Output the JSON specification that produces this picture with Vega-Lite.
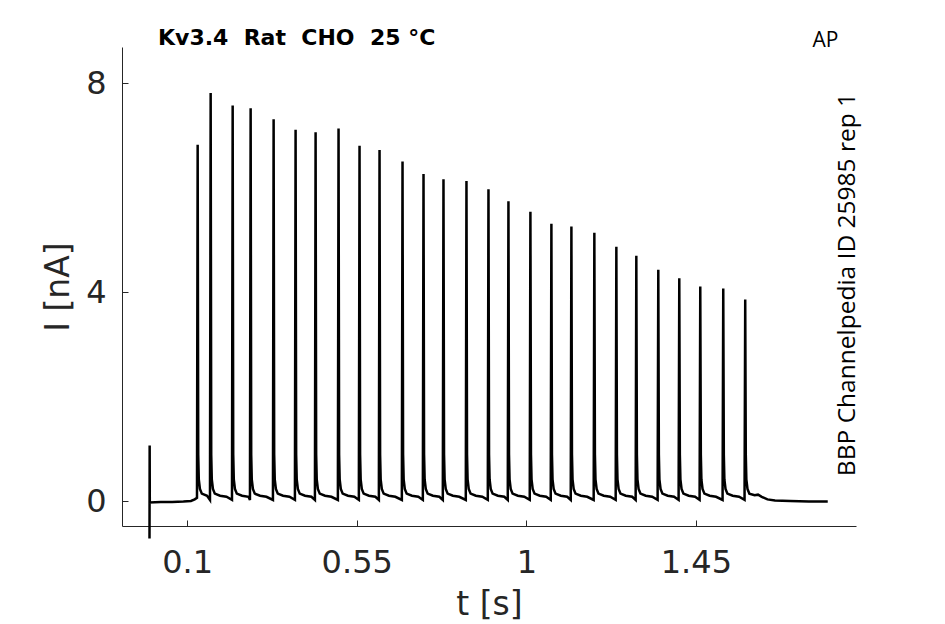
{
  "$schema": "https://vega.github.io/schema/vega-lite/v6.json",
  "width": 734,
  "height": 479,
  "autosize": "none",
  "padding": {"left": 122, "top": 47, "right": 89, "bottom": 98},
  "background": "white",
  "title": {
    "text": "Kv3.4 \u00a0Rat \u00a0CHO \u00a025 °C",
    "anchor": "start",
    "frame": "group",
    "dx": 36,
    "dy": 39,
    "offset": 1,
    "baseline": "alphabetic",
    "font": "DejaVu Sans",
    "fontSize": 22,
    "fontWeight": "bold",
    "color": "black"
  },
  "data": {
    "values": [
      {"t": 0.0000, "I": -0.71}, {"t": 0.0004, "I": 1.07}, {"t": 0.0008, "I": -0.02},
      {"t": 0.03, "I": -0.01}, {"t": 0.06, "I": -0.01}, {"t": 0.09, "I": 0.0}, {"t": 0.11, "I": 0.01}, {"t": 0.12, "I": 0.04}, {"t": 0.1260, "I": 0.07},
      {"t": 0.1278, "I": 6.82}, {"t": 0.1293, "I": 0.9}, {"t": 0.1308, "I": 0.42}, {"t": 0.1338, "I": 0.24}, {"t": 0.1388, "I": 0.15}, {"t": 0.1528, "I": 0.11},
      {"t": 0.1605, "I": 0.03}, {"t": 0.1623, "I": 7.81}, {"t": 0.1638, "I": 0.9}, {"t": 0.1653, "I": 0.42}, {"t": 0.1683, "I": 0.24}, {"t": 0.1733, "I": 0.15}, {"t": 0.1873, "I": 0.11}, {"t": 0.2043, "I": 0.09},
      {"t": 0.2189, "I": 0.03}, {"t": 0.2207, "I": 7.57}, {"t": 0.2222, "I": 0.9}, {"t": 0.2237, "I": 0.42}, {"t": 0.2267, "I": 0.24}, {"t": 0.2317, "I": 0.15}, {"t": 0.2457, "I": 0.11}, {"t": 0.2627, "I": 0.09},
      {"t": 0.2666, "I": 0.03}, {"t": 0.2684, "I": 7.52}, {"t": 0.2699, "I": 0.9}, {"t": 0.2714, "I": 0.42}, {"t": 0.2744, "I": 0.24}, {"t": 0.2794, "I": 0.15}, {"t": 0.2934, "I": 0.11}, {"t": 0.3104, "I": 0.09},
      {"t": 0.3276, "I": 0.03}, {"t": 0.3294, "I": 7.31}, {"t": 0.3309, "I": 0.9}, {"t": 0.3324, "I": 0.42}, {"t": 0.3354, "I": 0.24}, {"t": 0.3404, "I": 0.15}, {"t": 0.3544, "I": 0.11}, {"t": 0.3714, "I": 0.09},
      {"t": 0.3859, "I": 0.03}, {"t": 0.3877, "I": 7.11}, {"t": 0.3892, "I": 0.9}, {"t": 0.3907, "I": 0.42}, {"t": 0.3937, "I": 0.24}, {"t": 0.3987, "I": 0.15}, {"t": 0.4127, "I": 0.11}, {"t": 0.4297, "I": 0.09},
      {"t": 0.4390, "I": 0.03}, {"t": 0.4408, "I": 7.06}, {"t": 0.4423, "I": 0.9}, {"t": 0.4438, "I": 0.42}, {"t": 0.4468, "I": 0.24}, {"t": 0.4518, "I": 0.15}, {"t": 0.4658, "I": 0.11}, {"t": 0.4828, "I": 0.09},
      {"t": 0.4999, "I": 0.03}, {"t": 0.5017, "I": 7.13}, {"t": 0.5032, "I": 0.9}, {"t": 0.5047, "I": 0.42}, {"t": 0.5077, "I": 0.24}, {"t": 0.5127, "I": 0.15}, {"t": 0.5267, "I": 0.11}, {"t": 0.5437, "I": 0.09},
      {"t": 0.5556, "I": 0.03}, {"t": 0.5574, "I": 6.80}, {"t": 0.5589, "I": 0.9}, {"t": 0.5604, "I": 0.42}, {"t": 0.5634, "I": 0.24}, {"t": 0.5684, "I": 0.15}, {"t": 0.5824, "I": 0.11}, {"t": 0.5994, "I": 0.09},
      {"t": 0.6087, "I": 0.03}, {"t": 0.6105, "I": 6.72}, {"t": 0.6120, "I": 0.9}, {"t": 0.6135, "I": 0.42}, {"t": 0.6165, "I": 0.24}, {"t": 0.6215, "I": 0.15}, {"t": 0.6355, "I": 0.11}, {"t": 0.6525, "I": 0.09},
      {"t": 0.6697, "I": 0.03}, {"t": 0.6715, "I": 6.50}, {"t": 0.6730, "I": 0.9}, {"t": 0.6745, "I": 0.42}, {"t": 0.6775, "I": 0.24}, {"t": 0.6825, "I": 0.15}, {"t": 0.6965, "I": 0.11}, {"t": 0.7135, "I": 0.09},
      {"t": 0.7254, "I": 0.03}, {"t": 0.7272, "I": 6.26}, {"t": 0.7287, "I": 0.9}, {"t": 0.7302, "I": 0.42}, {"t": 0.7332, "I": 0.24}, {"t": 0.7382, "I": 0.15}, {"t": 0.7522, "I": 0.11}, {"t": 0.7692, "I": 0.09},
      {"t": 0.7784, "I": 0.03}, {"t": 0.7802, "I": 6.16}, {"t": 0.7817, "I": 0.9}, {"t": 0.7832, "I": 0.42}, {"t": 0.7862, "I": 0.24}, {"t": 0.7912, "I": 0.15}, {"t": 0.8052, "I": 0.11}, {"t": 0.8222, "I": 0.09},
      {"t": 0.8394, "I": 0.03}, {"t": 0.8412, "I": 6.13}, {"t": 0.8427, "I": 0.9}, {"t": 0.8442, "I": 0.42}, {"t": 0.8472, "I": 0.24}, {"t": 0.8522, "I": 0.15}, {"t": 0.8662, "I": 0.11}, {"t": 0.8832, "I": 0.09},
      {"t": 0.8978, "I": 0.03}, {"t": 0.8996, "I": 5.97}, {"t": 0.9011, "I": 0.9}, {"t": 0.9026, "I": 0.42}, {"t": 0.9056, "I": 0.24}, {"t": 0.9106, "I": 0.15}, {"t": 0.9246, "I": 0.11}, {"t": 0.9416, "I": 0.09},
      {"t": 0.9508, "I": 0.03}, {"t": 0.9526, "I": 5.74}, {"t": 0.9541, "I": 0.9}, {"t": 0.9556, "I": 0.42}, {"t": 0.9586, "I": 0.24}, {"t": 0.9636, "I": 0.15}, {"t": 0.9776, "I": 0.11}, {"t": 0.9946, "I": 0.09},
      {"t": 1.0091, "I": 0.03}, {"t": 1.0109, "I": 5.54}, {"t": 1.0124, "I": 0.9}, {"t": 1.0139, "I": 0.42}, {"t": 1.0169, "I": 0.24}, {"t": 1.0219, "I": 0.15}, {"t": 1.0359, "I": 0.11}, {"t": 1.0529, "I": 0.09},
      {"t": 1.0648, "I": 0.03}, {"t": 1.0666, "I": 5.31}, {"t": 1.0681, "I": 0.9}, {"t": 1.0696, "I": 0.42}, {"t": 1.0726, "I": 0.24}, {"t": 1.0776, "I": 0.15}, {"t": 1.0916, "I": 0.11}, {"t": 1.1086, "I": 0.09},
      {"t": 1.1179, "I": 0.03}, {"t": 1.1197, "I": 5.26}, {"t": 1.1212, "I": 0.9}, {"t": 1.1227, "I": 0.42}, {"t": 1.1257, "I": 0.24}, {"t": 1.1307, "I": 0.15}, {"t": 1.1447, "I": 0.11}, {"t": 1.1617, "I": 0.09},
      {"t": 1.1788, "I": 0.03}, {"t": 1.1806, "I": 5.14}, {"t": 1.1821, "I": 0.9}, {"t": 1.1836, "I": 0.42}, {"t": 1.1866, "I": 0.24}, {"t": 1.1916, "I": 0.15}, {"t": 1.2056, "I": 0.11}, {"t": 1.2226, "I": 0.09},
      {"t": 1.2372, "I": 0.03}, {"t": 1.2390, "I": 4.87}, {"t": 1.2405, "I": 0.9}, {"t": 1.2420, "I": 0.42}, {"t": 1.2450, "I": 0.24}, {"t": 1.2500, "I": 0.15}, {"t": 1.2640, "I": 0.11}, {"t": 1.2810, "I": 0.09},
      {"t": 1.2902, "I": 0.03}, {"t": 1.2920, "I": 4.70}, {"t": 1.2935, "I": 0.9}, {"t": 1.2950, "I": 0.42}, {"t": 1.2980, "I": 0.24}, {"t": 1.3030, "I": 0.15}, {"t": 1.3170, "I": 0.11}, {"t": 1.3340, "I": 0.09},
      {"t": 1.3485, "I": 0.03}, {"t": 1.3503, "I": 4.43}, {"t": 1.3518, "I": 0.9}, {"t": 1.3533, "I": 0.42}, {"t": 1.3563, "I": 0.24}, {"t": 1.3613, "I": 0.15}, {"t": 1.3753, "I": 0.11}, {"t": 1.3923, "I": 0.09},
      {"t": 1.4042, "I": 0.03}, {"t": 1.4060, "I": 4.27}, {"t": 1.4075, "I": 0.9}, {"t": 1.4090, "I": 0.42}, {"t": 1.4120, "I": 0.24}, {"t": 1.4170, "I": 0.15}, {"t": 1.4310, "I": 0.11}, {"t": 1.4480, "I": 0.09},
      {"t": 1.4599, "I": 0.03}, {"t": 1.4617, "I": 4.11}, {"t": 1.4632, "I": 0.9}, {"t": 1.4647, "I": 0.42}, {"t": 1.4677, "I": 0.24}, {"t": 1.4727, "I": 0.15}, {"t": 1.4867, "I": 0.11}, {"t": 1.5037, "I": 0.09},
      {"t": 1.5209, "I": 0.03}, {"t": 1.5227, "I": 4.07}, {"t": 1.5242, "I": 0.9}, {"t": 1.5257, "I": 0.42}, {"t": 1.5287, "I": 0.24}, {"t": 1.5337, "I": 0.15}, {"t": 1.5477, "I": 0.11}, {"t": 1.5647, "I": 0.09},
      {"t": 1.5792, "I": 0.03}, {"t": 1.5810, "I": 3.86}, {"t": 1.5825, "I": 0.9}, {"t": 1.5840, "I": 0.42}, {"t": 1.5870, "I": 0.24}, {"t": 1.5920, "I": 0.15}, {"t": 1.6060, "I": 0.12}, {"t": 1.6150, "I": 0.13},
      {"t": 1.6250, "I": 0.09}, {"t": 1.6400, "I": 0.04}, {"t": 1.6600, "I": 0.02}, {"t": 1.7000, "I": 0.01}, {"t": 1.7500, "I": 0.0}, {"t": 1.8000, "I": 0.0}
    ]
  },
  "layer": [
    {
      "mark": {"type": "line", "color": "black", "strokeWidth": 2.5, "clip": false},
      "encoding": {
        "x": {
          "field": "t", "type": "quantitative",
          "scale": {"domain": [-0.073, 1.875], "nice": false, "zero": false},
          "axis": {
            "orient": "bottom", "values": [0.1, 0.55, 1, 1.45], "format": ".3~g",
            "title": "t [s]", "grid": false, "tickSize": -6, "labelPadding": 27,
            "titlePadding": 10
          }
        },
        "y": {
          "field": "I", "type": "quantitative",
          "scale": {"domain": [-0.469, 8.69], "nice": false, "zero": false},
          "axis": {
            "orient": "left", "values": [0, 4, 8], "format": "d",
            "title": "I [nA]", "grid": false, "tickSize": -6, "labelPadding": 22,
            "titlePadding": 10
          }
        }
      }
    },
    {
      "mark": {"type": "line", "opacity": 0},
      "encoding": {
        "x": {
          "field": "t", "type": "quantitative",
          "axis": {
            "orient": "top", "domain": false, "ticks": false, "labels": false, "grid": false,
            "title": "AP", "titleX": 703, "titleY": -1, "titleAlign": "center", "titleBaseline": "alphabetic",
            "titleFont": "Open Sans", "titleFontSize": 21, "titleFontWeight": "normal", "titleColor": "black"
          }
        },
        "y": {
          "field": "I", "type": "quantitative",
          "axis": {
            "orient": "right", "domain": false, "ticks": false, "labels": false, "grid": false,
            "title": "BBP Channelpedia ID 25985 rep 1", "titleAngle": 270, "titleX": -2, "titleY": 237,
            "titleAlign": "center", "titleBaseline": "alphabetic",
            "titleFont": "Open Sans", "titleFontSize": 24.5, "titleFontWeight": "normal", "titleColor": "black"
          }
        }
      }
    }
  ],
  "resolve": {"axis": {"x": "independent", "y": "independent"}},
  "config": {
    "view": {"stroke": null},
    "axis": {
      "domainColor": "#262626", "domainWidth": 1, "tickColor": "#262626", "tickWidth": 1,
      "labelFont": "DejaVu Sans", "labelFontSize": 32, "labelColor": "#262626",
      "titleFont": "DejaVu Sans", "titleFontSize": 33, "titleFontWeight": "normal", "titleColor": "#262626"
    }
  }
}
